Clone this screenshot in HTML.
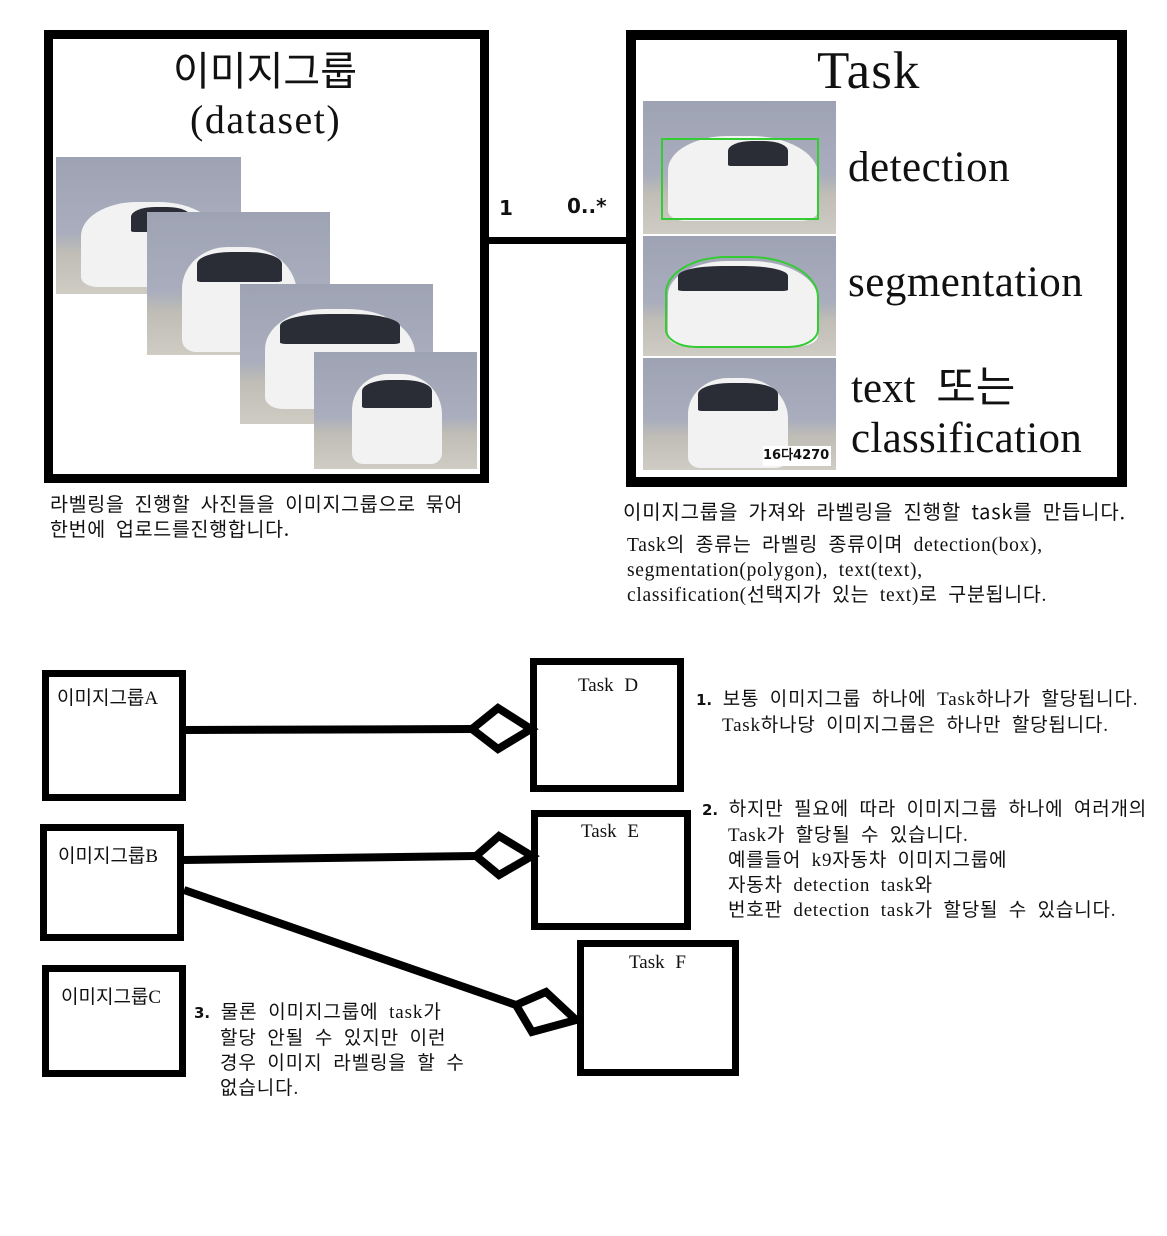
<!DOCTYPE html>
<html><head><meta charset="utf-8">
<style>
html,body{margin:0;padding:0;background:#fff;}
body{width:1167px;height:1236px;position:relative;overflow:hidden;font-family:"Liberation Serif","Noto Sans CJK KR",serif;color:#111;}
.a{position:absolute;white-space:nowrap;}
.box{position:absolute;border:solid #000;box-sizing:border-box;background:#fff;}
.ph{position:absolute;background:linear-gradient(180deg,#9ea3b4 0%,#a9adbd 55%,#bfbdb6 70%,#cfccc4 100%);overflow:hidden;}
.car{position:absolute;background:#f2f2f2;border-radius:40% 45% 12% 12%;}
.win{position:absolute;background:#2a2d36;border-radius:40% 40% 5% 5%;}
.ks{font-family:"Noto Sans CJK KR",sans-serif;}
.t{font-size:19px;line-height:25px;word-spacing:5px;letter-spacing:0.6px;}
.in{display:inline-block;width:26px;}
</style></head><body>

<div class="box" style="left:44px;top:30px;width:445px;height:453px;border-width:9px;"></div>
<div class="a ks" style="left:173px;top:40px;font-size:40px;line-height:56px;">이미지그룹</div>
<div class="a" style="left:190px;top:97px;font-size:40px;line-height:46px;letter-spacing:1.5px;">(dataset)</div>

<div class="ph" style="left:56px;top:157px;width:185px;height:137px;"><div class="car" style="left:25px;top:45px;width:140px;height:85px;"></div><div class="win" style="left:75px;top:50px;width:60px;height:25px;"></div></div>
<div class="ph" style="left:147px;top:212px;width:183px;height:143px;"><div class="car" style="left:35px;top:35px;width:115px;height:105px;"></div><div class="win" style="left:50px;top:40px;width:85px;height:30px;"></div></div>
<div class="ph" style="left:240px;top:284px;width:193px;height:140px;"><div class="car" style="left:25px;top:25px;width:150px;height:100px;"></div><div class="win" style="left:40px;top:30px;width:120px;height:30px;"></div></div>
<div class="ph" style="left:314px;top:352px;width:163px;height:117px;"><div class="car" style="left:38px;top:22px;width:90px;height:90px;"></div><div class="win" style="left:48px;top:28px;width:70px;height:28px;"></div></div>

<div class="a ks t" style="left:50px;top:490px;font-size:19.5px;letter-spacing:0.7px;">라벨링을 진행할 사진들을 이미지그룹으로 묶어<br>한번에 업로드를진행합니다.</div>

<div class="a" style="left:488px;top:237px;width:140px;height:7px;background:#000;"></div>
<div class="a" style="left:499px;top:196px;font-family:'DejaVu Sans',sans-serif;font-size:20px;font-weight:bold;">1</div>
<div class="a" style="left:567px;top:194px;font-family:'DejaVu Sans',sans-serif;font-size:20px;font-weight:bold;">0..*</div>

<div class="box" style="left:626px;top:30px;width:501px;height:457px;border-width:10px;"></div>
<div class="a" style="left:817px;top:40px;font-size:53px;line-height:62px;letter-spacing:1px;">Task</div>

<div class="ph" style="left:643px;top:101px;width:193px;height:133px;"><div class="car" style="left:25px;top:35px;width:150px;height:85px;"></div><div class="win" style="left:85px;top:40px;width:60px;height:25px;"></div><div style="position:absolute;left:18px;top:37px;width:154px;height:78px;border:2px solid #3c3;"></div></div>
<div class="ph" style="left:643px;top:236px;width:193px;height:120px;"><div class="car" style="left:25px;top:25px;width:150px;height:85px;"></div><div class="win" style="left:35px;top:30px;width:110px;height:25px;"></div><div style="position:absolute;left:22px;top:20px;width:150px;height:88px;border:2px solid #3c3;border-radius:40% 45% 20% 20%;"></div></div>
<div class="ph" style="left:643px;top:358px;width:193px;height:112px;"><div class="car" style="left:45px;top:20px;width:100px;height:90px;"></div><div class="win" style="left:55px;top:25px;width:80px;height:28px;"></div><div style="position:absolute;left:120px;top:88px;width:68px;height:20px;background:#fff;font:bold 13px 'DejaVu Sans',sans-serif;line-height:20px;">16다4270</div></div>

<div class="a" style="left:848px;top:142px;font-size:43px;line-height:52px;letter-spacing:0.5px;">detection</div>
<div class="a" style="left:848px;top:257px;font-size:43px;line-height:52px;letter-spacing:0.5px;">segmentation</div>
<div class="a" style="left:851px;top:363px;font-size:43px;line-height:52px;word-spacing:10px;">text 또는</div>
<div class="a" style="left:851px;top:413px;font-size:43px;line-height:52px;letter-spacing:0.3px;">classification</div>

<div class="a ks t" style="left:623px;top:498px;font-size:20px;letter-spacing:0.8px;">이미지그룹을 가져와 라벨링을 진행할 task를 만듭니다.</div>
<div class="a t" style="left:627px;top:533px;font-size:19.5px;letter-spacing:0.7px;">Task의 종류는 라벨링 종류이며 detection(box),<br>segmentation(polygon), text(text),<br>classification(선택지가 있는 text)로 구분됩니다.</div>

<div class="box" style="left:42px;top:670px;width:144px;height:131px;border-width:7px;"></div>
<div class="a" style="left:57px;top:683px;font-size:19px;">이미지그룹A</div>
<div class="box" style="left:530px;top:658px;width:154px;height:134px;border-width:7px;"></div>
<div class="a" style="left:578px;top:675px;font-size:19px;word-spacing:6px;">Task D</div>
<div class="box" style="left:40px;top:824px;width:144px;height:117px;border-width:7px;"></div>
<div class="a" style="left:58px;top:841px;font-size:19px;">이미지그룹B</div>
<div class="box" style="left:531px;top:810px;width:160px;height:120px;border-width:7px;"></div>
<div class="a" style="left:581px;top:821px;font-size:19px;word-spacing:6px;">Task E</div>
<div class="box" style="left:42px;top:965px;width:144px;height:112px;border-width:7px;"></div>
<div class="a" style="left:61px;top:982px;font-size:19px;">이미지그룹C</div>
<div class="box" style="left:577px;top:940px;width:162px;height:136px;border-width:7px;"></div>
<div class="a" style="left:629px;top:952px;font-size:19px;word-spacing:6px;">Task F</div>

<svg class="a" style="left:0;top:0;" width="1167" height="1236">
<g stroke="#000" stroke-width="8" fill="#fff" stroke-linejoin="miter">
<line x1="186" y1="730" x2="472" y2="729"/>
<polygon points="472,729 498,708 531,729 498,749"/>
<line x1="184" y1="860" x2="476" y2="856"/>
<polygon points="476,856 499,836 532,856 499,875"/>
<line x1="184" y1="890" x2="516" y2="1005"/>
<polygon points="516,1005 546,992 576,1020 532,1032"/>
</g>
</svg>

<div class="a t" style="left:696px;top:687px;letter-spacing:0.8px;"><span style="font-family:'DejaVu Sans',sans-serif;font-weight:bold;font-size:15px;letter-spacing:0;">1.</span> 보통 이미지그룹 하나에 Task하나가 할당됩니다.<br><span class="in"></span>Task하나당 이미지그룹은 하나만 할당됩니다.</div>
<div class="a t" style="left:702px;top:797px;letter-spacing:0.8px;"><span style="font-family:'DejaVu Sans',sans-serif;font-weight:bold;font-size:15px;letter-spacing:0;">2.</span> 하지만 필요에 따라 이미지그룹 하나에 여러개의<br><span class="in"></span>Task가 할당될 수 있습니다.<br><span class="in"></span>예를들어 k9자동차 이미지그룹에<br><span class="in"></span>자동차 detection task와<br><span class="in"></span>번호판 detection task가 할당될 수 있습니다.</div>
<div class="a t" style="left:194px;top:1000px;letter-spacing:0.9px;"><span style="font-family:'DejaVu Sans',sans-serif;font-weight:bold;font-size:15px;letter-spacing:0;">3.</span> 물론 이미지그룹에 task가<br><span class="in"></span>할당 안될 수 있지만 이런<br><span class="in"></span>경우 이미지 라벨링을 할 수<br><span class="in"></span>없습니다.</div>

</body></html>
